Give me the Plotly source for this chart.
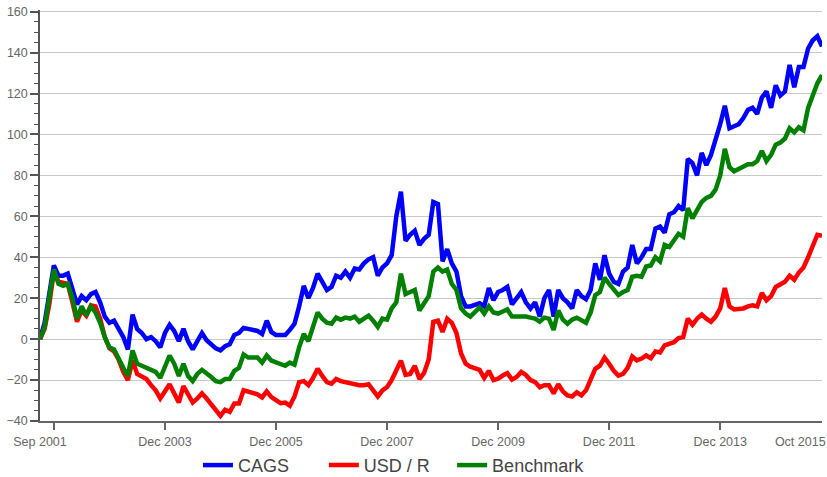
import plotly.graph_objects as go

# ---- data (monthly index points) ----
cags = [0, 8, 22, 36, 31, 31, 32, 24, 17, 21, 19, 22, 23, 18, 11, 8, 9, 5, 1, -5,
        12, 5, 3, 0, 1, -1, -4, 3, 7, 4, -1, 5, -1, -5, -1, 3, -0.5, -2.5, -4.5, -5.5,
        -3.5, -2.5, 2, 3, 5.5, 5, 4.5, 4, 2.5, 9, 3.5, 2, 2, 2, 4.5, 7.5, 16, 26, 20, 25,
        32, 28, 24, 25.5, 31, 30, 33, 30, 34.5, 34, 37, 39, 40, 31, 35, 37, 41, 60, 72, 48,
        51, 53, 46, 49, 51, 67, 66, 38, 44, 37, 33, 21, 16, 16, 16.5, 17.5, 16, 25, 19, 23,
        24, 25.5, 17, 20, 23, 18, 15, 18, 11, 20, 24, 11, 24, 20, 18, 15, 24, 21, 19.5, 24,
        37, 29, 41, 32, 28, 27, 33, 35, 46, 37, 40, 44, 44, 54, 55, 52, 61, 62, 65, 63,
        88, 86, 80, 91, 85, 90, 97, 105, 114, 103, 104, 105, 108, 112, 113, 110, 118, 121, 113, 124,
        119, 121, 134, 123, 133, 133, 142, 146, 148, 143]

usd_r = [0, 5, 17, 33, 28, 27.5, 27, 18, 8.5, 14, 11.5, 16.5, 16, 10, 1, -4.5, -6, -10, -16, -20,
         -10.5, -17, -18.5, -19.5, -22.5, -25, -29, -25.5, -22, -26.5, -31, -23, -27, -31, -29, -26.5, -29, -32, -35, -37.5,
         -34.5, -35.5, -31.5, -31.5, -25, -25.5, -26, -27, -28.5, -25.5, -28.3, -30, -31.3, -31, -32.5, -28, -21, -20.5, -22.5, -19,
         -14.5, -18, -21, -21.8, -19.5, -20.5, -21, -22, -22.5, -22.5, -22.5, -22, -25, -28, -25, -23.5, -20, -15, -10.5, -17.5,
         -17, -13, -19.5, -16.5, -10, 8.5, 9, 3.5, 10, 8, 3, -7, -12, -13.5, -14, -15, -19, -15.5, -20, -19.3,
         -17.8, -16.6, -19.8, -18.5, -16, -17.5, -20, -21, -23.5, -22.5, -22.5, -26.5, -22, -25.5, -27.5, -28, -26, -27.5, -25, -20,
         -14.5, -13, -9, -12, -15.5, -17.8, -17, -14, -8.5, -10.4, -9.5, -8, -9.3, -6, -6.5, -3, -2.5, -1.5, 0.5, 1,
         10, 7, 10, 12, 10, 8.5, 11, 15, 25, 16, 14.5, 14.5, 15, 16, 16.5, 16, 22.5, 19, 21, 25.5,
         26.5, 28, 31, 29, 32.5, 35, 40, 46, 51, 50.5]

benchmark = [0, 6, 20, 34, 27, 26, 27, 20, 10, 16, 11.5, 16, 13, 8, 1, -4, -5, -10, -14, -18,
             -5.5, -12, -13, -14, -14.5, -16, -19, -13, -8, -12, -18, -12, -18, -20.5, -17, -15, -16.5, -18.5, -20.5, -21,
             -19.5, -19.5, -15.5, -14, -7.5, -9, -9, -9, -11.5, -8, -10.5, -11.5, -12.5, -13, -11.5, -12.5, -4, 2.5, -1, 7,
             13, 10, 8, 7.5, 10.5, 9.5, 10.5, 10, 11, 8.5, 10, 11.5, 9, 6, 10, 9.5, 15, 18, 32, 22,
             23, 24, 14, 18, 21, 33, 35, 33, 34, 27, 24, 15, 12.5, 11, 13, 15.5, 12.5, 16, 13, 12.5,
             13.5, 14.5, 11, 11, 11.5, 11, 10.5, 10, 8.5, 10.5, 10, 4.5, 14, 9.5, 7.5, 9.5, 10.5, 9, 8, 13,
             21.5, 23, 30, 27, 24, 21.5, 23, 24, 30.5, 31, 30.5, 35.5, 36, 40, 38, 46, 45, 48, 51.5, 50,
             64, 59, 63, 67, 69, 70, 73, 80, 93, 84, 82, 83, 84.5, 85.5, 85.5, 87, 92, 87, 90, 95,
             96, 98, 103, 101, 103.5, 102, 113, 119, 125, 129]

series_names = ["CAGS", "USD / R", "Benchmark"]
tick_labels = ["Sep 2001", "Dec 2003", "Dec 2005", "Dec 2007", "Dec 2009",
               "Dec 2011", "Dec 2013", "Oct 2015"]

# ---- axis / legend layout configuration ----
label_pos = [0, 27, 51, 75, 99, 123, 147, 164.3]
tickmark_pos = [3, 27, 51, 75, 99, 123, 147]
legend_x = [0.202, 0.363, 0.527]

idx = list(range(len(cags)))
colors = ["#0000ff", "#ff0000", "#008000"]
legend_ids = ["legend", "legend2", "legend3"]

fig = go.Figure()
for name, vals, col, lg in zip(series_names, [cags, usd_r, benchmark], colors, legend_ids):
    fig.add_trace(go.Scatter(x=idx, y=vals, mode="lines", name=name, legend=lg,
                             line=dict(color=col, width=4.5)))

# invisible helper trace so the tick-mark axis is rendered
fig.add_trace(go.Scatter(x=[idx[0], idx[-1]], y=[None, None], xaxis="x2",
                         showlegend=False, hoverinfo="skip"))

font_family = "Liberation Sans, Arial, sans-serif"
xr = [idx[0], idx[-1]]

legend_common = dict(
    orientation="h", xanchor="left", y=-0.108, yanchor="middle",
    font=dict(size=18, color="#444444", family=font_family),
    bgcolor="rgba(0,0,0,0)", itemclick=False, itemdoubleclick=False,
)

fig.update_layout(
    width=827, height=477,
    margin=dict(l=40, r=5, t=10, b=56, autoexpand=False),
    paper_bgcolor="white", plot_bgcolor="white",
    font=dict(family=font_family, color="#666666"),
    xaxis=dict(
        range=xr, tickmode="array", tickvals=label_pos, ticktext=tick_labels,
        ticks="outside", ticklen=8, tickcolor="rgba(0,0,0,0)",
        showgrid=False, zeroline=False, automargin=False,
        showline=True, linecolor="#666666", linewidth=1.5,
        tickfont=dict(size=12.5, color="#666666"),
        ticklabeloverflow="allow",
    ),
    xaxis2=dict(
        range=xr, overlaying="x", anchor="y", side="bottom",
        tickmode="array", tickvals=tickmark_pos, ticks="outside", ticklen=8,
        tickwidth=1.5, tickcolor="#666666", automargin=False,
        showticklabels=False, showgrid=False, zeroline=False, showline=False,
    ),
    yaxis=dict(
        range=[-40, 160.8], tickmode="array",
        tickvals=[-40, -20, 0, 20, 40, 60, 80, 100, 120, 140, 160],
        automargin=False, ticklabeloverflow="allow",
        ticks="outside", ticklen=8, tickwidth=1.5, tickcolor="#555555",
        showgrid=True, gridcolor="#c8c8c8", gridwidth=1,
        zeroline=False,
        showline=True, linecolor="#555555", linewidth=1.5,
        tickfont=dict(size=12.5, color="#666666"),
        minor=dict(ticks="outside", ticklen=4, tickmode="linear", tick0=0, dtick=5,
                   tickcolor="#555555", tickwidth=1, showgrid=False),
    ),
    legend=dict(x=legend_x[0], **legend_common),
    legend2=dict(x=legend_x[1], **legend_common),
    legend3=dict(x=legend_x[2], **legend_common),
    showlegend=True,
)

# remove the default 8px page margin so the figure fills the window exactly
fig.write_html("out.html", config={"displayModeBar": False},
               post_script="document.body.style.margin='0';")
